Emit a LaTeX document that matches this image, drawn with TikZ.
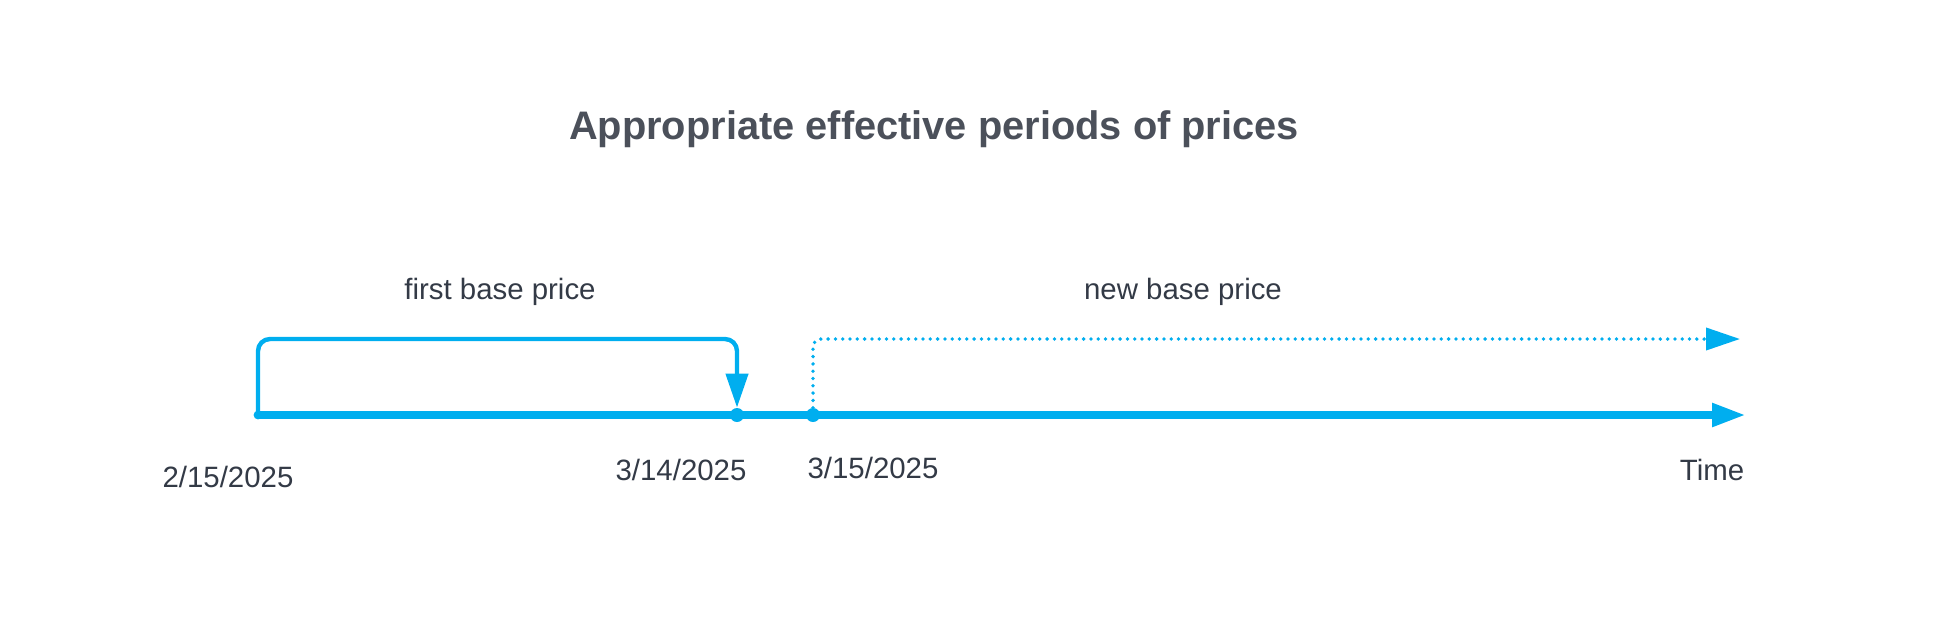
\documentclass[tikz,border=0pt]{standalone}
\usepackage{fontspec}
\setmainfont{Liberation Sans}
\usetikzlibrary{arrows.meta}
\definecolor{timeblue}{RGB}{0,174,239}
\definecolor{titlegray}{RGB}{75,80,90}
\definecolor{labelgray}{RGB}{51,58,70}

\begin{document}
\begin{tikzpicture}[x=0.5pt, y=-0.5pt,
  every node/.style={font=\fontsize{14.7}{17}\selectfont, text=labelgray, inner sep=0pt},
  dot/.style={circle, fill=timeblue, minimum size=7pt},
  smalldot/.style={circle, fill=timeblue, minimum size=4.4pt},
  axis/.style={draw=timeblue, line width=4pt, -{Triangle[length=17pt,width=11pt]}},
  oldspan/.style={draw=timeblue, line width=2.2pt, rounded corners=6pt, -{Triangle[length=17pt,width=11pt]}},
  newspan/.style={draw=timeblue, line width=1.9pt, line cap=round, dash pattern=on 0pt off 3.65pt,
    rounded corners=4pt, -{Triangle[length=17pt,width=11pt]}}]
  \useasboundingbox (0,0) rectangle (1941,617);
  % Title
  \node[anchor=base, font=\bfseries\fontsize{19.9}{23}\selectfont, text=titlegray] (title) at (934,139)
    {Appropriate effective periods of prices};
  % Time axis
  \node[smalldot] (d215) at (258,415) {};
  \node[dot] (d314) at (737,415) {};
  \node[dot] (d315) at (813,415) {};
  \coordinate (tend) at (1746,415);
  \draw[axis] (d215.center) -- (tend);
  % Price periods
  \coordinate (oldtop) at (737,339);
  \coordinate (newend) at (1740,339);
  \draw[oldspan] (d215.center) |- (oldtop) -- (d314.north);
  \draw[newspan] (d315.center) |- (newend);
  \node[anchor=base] (lold) at (500,299) {first base price};
  \node[anchor=base] (lnew) at (1183,299) {new base price};
  % Dates
  \node[anchor=base] (t215) at (228,487) {2/15/2025};
  \node[anchor=base] (t314) at (681,480.5) {3/14/2025};
  \node[anchor=base] (t315) at (873,478) {3/15/2025};
  \node[anchor=base] (ttime) at (1712,480) {Time};
\end{tikzpicture}
\end{document}
